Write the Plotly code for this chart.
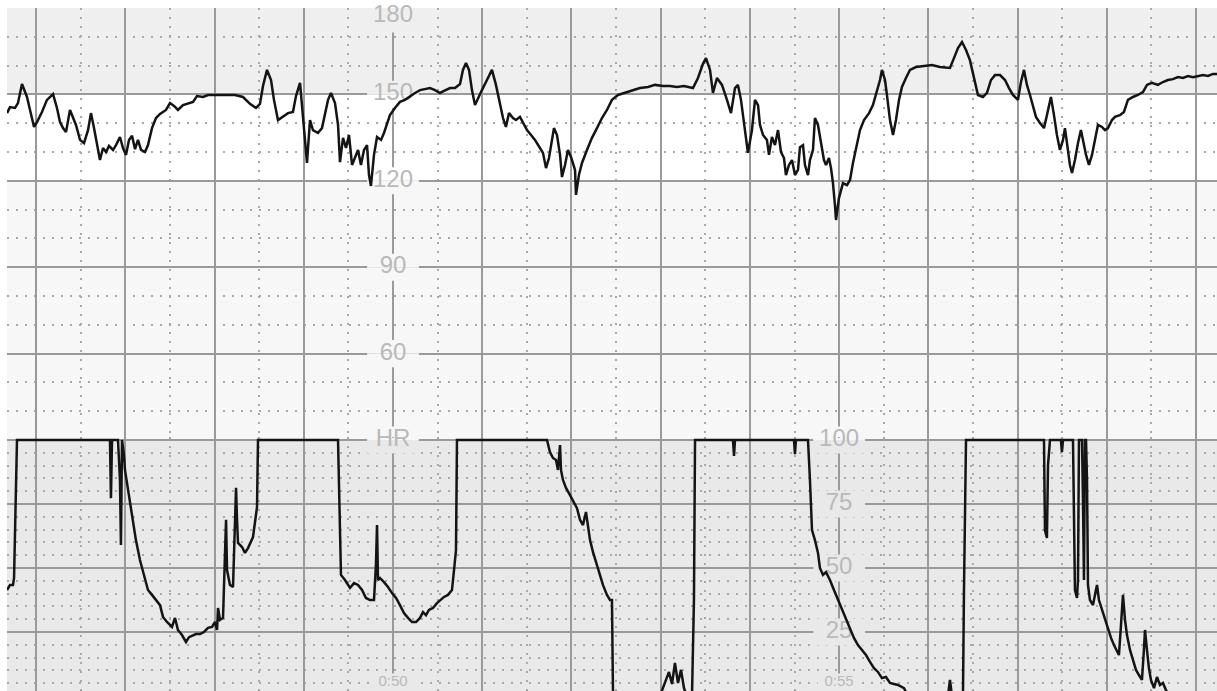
import plotly.graph_objects as go

# ---------------- data (time in minutes, FHR in bpm, UC in units) ----------------
FHR_TIME = [45.674, 45.708, 45.764, 45.797, 45.842, 45.898, 45.932, 45.977, 46.010, 46.066, 46.122, 46.190,
            46.234, 46.268, 46.302, 46.335, 46.380, 46.414, 46.447, 46.492, 46.537, 46.582, 46.615, 46.649,
            46.683, 46.716, 46.750, 46.784, 46.817, 46.862, 46.896, 46.940, 46.974, 47.008, 47.041, 47.075,
            47.109, 47.142, 47.176, 47.221, 47.254, 47.299, 47.344, 47.389, 47.456, 47.501, 47.546, 47.590,
            47.647, 47.714, 47.759, 47.803, 47.871, 47.927, 48.005, 48.117, 48.229, 48.319, 48.397, 48.465,
            48.509, 48.543, 48.588, 48.633, 48.666, 48.711, 48.767, 48.823, 48.879, 48.913, 48.958, 49.014,
            49.036, 49.070, 49.103, 49.159, 49.204, 49.272, 49.305, 49.350, 49.384, 49.406, 49.440, 49.473,
            49.507, 49.541, 49.574, 49.608, 49.641, 49.675, 49.709, 49.731, 49.753, 49.787, 49.821, 49.866,
            49.899, 49.933, 49.966, 50.022, 50.078, 50.134, 50.191, 50.247, 50.303, 50.359, 50.415, 50.471,
            50.527, 50.572, 50.639, 50.695, 50.751, 50.784, 50.818, 50.852, 50.885, 50.919, 50.953, 50.997,
            51.053, 51.109, 51.154, 51.199, 51.233, 51.266, 51.300, 51.345, 51.378, 51.423, 51.457, 51.502,
            51.547, 51.591, 51.647, 51.681, 51.715, 51.748, 51.782, 51.804, 51.838, 51.872, 51.894, 51.928,
            51.961, 51.995, 52.040, 52.051, 52.084, 52.118, 52.174, 52.230, 52.286, 52.342, 52.398, 52.454,
            52.522, 52.600, 52.690, 52.768, 52.858, 52.936, 53.026, 53.104, 53.183, 53.261, 53.362, 53.418,
            53.474, 53.508, 53.553, 53.586, 53.631, 53.687, 53.743, 53.788, 53.833, 53.866, 53.900, 53.934,
            53.978, 54.023, 54.057, 54.091, 54.113, 54.147, 54.191, 54.214, 54.247, 54.281, 54.315, 54.348,
            54.382, 54.404, 54.438, 54.472, 54.505, 54.539, 54.561, 54.595, 54.617, 54.651, 54.673, 54.707,
            54.729, 54.763, 54.797, 54.830, 54.853, 54.886, 54.909, 54.931, 54.953, 54.965, 54.998, 55.021,
            55.043, 55.088, 55.122, 55.155, 55.200, 55.234, 55.279, 55.335, 55.379, 55.424, 55.458, 55.480,
            55.514, 55.536, 55.570, 55.604, 55.637, 55.671, 55.704, 55.749, 55.794, 55.861, 55.962, 56.041,
            56.130, 56.242, 56.287, 56.332, 56.377, 56.422, 56.466, 56.511, 56.556, 56.612, 56.657, 56.702,
            56.747, 56.803, 56.859, 56.904, 56.948, 57.004, 57.038, 57.072, 57.105, 57.139, 57.172, 57.206,
            57.251, 57.296, 57.329, 57.374, 57.408, 57.441, 57.475, 57.509, 57.531, 57.553, 57.587, 57.610,
            57.643, 57.677, 57.710, 57.733, 57.767, 57.800, 57.834, 57.867, 57.901, 57.946, 57.979, 58.013,
            58.058, 58.091, 58.147, 58.192, 58.237, 58.293, 58.349, 58.405, 58.450, 58.506, 58.573, 58.629,
            58.685, 58.741, 58.797, 58.853, 58.910, 58.966, 59.022, 59.078, 59.134, 59.190, 59.235]

FHR_BPM = [143.5, 145.6, 145.3, 147.0, 153.6, 149.1, 144.6, 138.7, 140.4, 143.9, 148.1, 150.1,
           145.3, 140.4, 138.3, 136.9, 144.6, 141.8, 139.4, 134.2, 133.1, 137.6, 143.5, 138.3,
           132.4, 127.2, 131.4, 130.0, 132.1, 130.7, 132.4, 135.2, 131.4, 129.0, 134.2, 135.6,
           131.0, 134.2, 130.7, 130.0, 132.4, 138.3, 141.8, 143.2, 144.6, 147.0, 146.0, 144.6,
           146.3, 147.0, 147.4, 149.4, 149.1, 149.8, 149.8, 149.8, 149.8, 149.1, 146.7, 145.3,
           146.7, 152.9, 158.5, 155.0, 148.1, 141.1, 142.2, 143.5, 143.9, 149.4, 154.0, 134.2,
           126.2, 141.1, 137.6, 136.6, 138.3, 148.1, 150.5, 147.0, 139.4, 126.5, 134.9, 131.4,
           135.9, 125.5, 127.9, 130.7, 125.5, 130.7, 132.4, 122.0, 118.2, 129.0, 135.2, 134.2,
           136.6, 139.4, 142.8, 145.3, 147.4, 148.1, 149.4, 150.5, 151.5, 151.9, 152.2, 151.5,
           150.5, 151.2, 152.2, 152.2, 153.6, 158.5, 160.9, 158.5, 151.5, 146.3, 148.8, 151.5,
           155.0, 158.5, 153.3, 146.3, 141.8, 138.7, 143.5, 141.8, 141.1, 142.2, 140.1, 137.6,
           135.9, 134.2, 131.4, 129.7, 124.4, 127.9, 134.2, 138.3, 135.9, 129.0, 121.3, 125.5,
           130.7, 128.3, 123.8, 115.1, 122.0, 126.2, 130.7, 134.9, 138.3, 141.8, 144.6, 148.1,
           149.8, 150.5, 151.5, 152.2, 152.6, 153.3, 152.9, 152.9, 152.6, 152.9, 152.2, 155.7,
           160.6, 162.6, 158.5, 150.5, 155.7, 153.3, 148.1, 143.5, 152.2, 153.3, 148.1, 140.4,
           129.7, 137.6, 148.1, 146.3, 139.4, 135.9, 134.2, 129.0, 135.2, 132.4, 137.6, 130.0,
           127.9, 122.0, 125.5, 127.2, 122.0, 123.8, 131.7, 132.4, 125.5, 122.0, 127.2, 130.7,
           141.8, 139.4, 132.4, 127.2, 125.5, 127.9, 124.4, 119.2, 111.6, 106.4, 114.0, 116.8,
           119.2, 118.5, 120.3, 126.2, 132.4, 137.6, 141.1, 143.5, 146.3, 150.8, 155.0, 158.5,
           155.0, 149.8, 141.1, 135.9, 141.1, 148.1, 152.6, 155.7, 158.5, 159.5, 159.9, 160.2,
           159.5, 159.2, 162.6, 166.1, 168.2, 165.4, 161.9, 155.7, 149.8, 149.1, 150.5, 155.0,
           156.7, 156.7, 155.0, 152.2, 149.8, 148.1, 154.3, 158.5, 153.3, 149.8, 146.3, 142.2,
           140.1, 138.3, 142.8, 149.1, 142.8, 135.9, 130.7, 134.2, 138.3, 132.4, 125.5, 122.7,
           127.2, 133.1, 137.6, 134.2, 129.0, 125.5, 129.0, 134.2, 139.4, 138.7, 137.6, 138.3,
           141.1, 142.2, 142.8, 143.9, 148.1, 149.1, 149.8, 150.8, 153.3, 154.0, 153.3, 154.3,
           155.0, 155.3, 156.0, 155.7, 156.4, 156.0, 156.4, 156.7, 156.4, 157.1, 157.1]

UC_TIME = [45.674, 45.708, 45.741, 45.753, 45.764, 45.775, 45.786, 46.828, 46.839, 46.851, 46.918, 46.940,
           46.951, 46.963, 46.985, 46.996, 47.030, 47.075, 47.119, 47.164, 47.209, 47.254, 47.299, 47.344,
           47.389, 47.422, 47.467, 47.523, 47.557, 47.568, 47.590, 47.635, 47.680, 47.714, 47.747, 47.792,
           47.837, 47.882, 47.927, 47.972, 48.005, 48.028, 48.039, 48.061, 48.095, 48.129, 48.140, 48.173,
           48.207, 48.241, 48.252, 48.263, 48.308, 48.341, 48.375, 48.431, 48.476, 48.487, 49.384, 49.406,
           49.417, 49.462, 49.518, 49.563, 49.608, 49.653, 49.697, 49.742, 49.787, 49.809, 49.821, 49.832,
           49.854, 49.899, 49.944, 49.989, 50.034, 50.078, 50.123, 50.168, 50.213, 50.258, 50.303, 50.336,
           50.370, 50.403, 50.448, 50.493, 50.527, 50.572, 50.616, 50.661, 50.684, 50.706, 50.717, 51.726,
           51.759, 51.793, 51.827, 51.849, 51.872, 51.883, 51.905, 51.939, 51.984, 52.028, 52.062, 52.096,
           52.129, 52.163, 52.185, 52.208, 52.241, 52.286, 52.320, 52.353, 52.398, 52.432, 52.454, 52.466,
           52.992, 53.026, 53.060, 53.093, 53.127, 53.160, 53.194, 53.228, 53.261, 53.295, 53.351, 53.362,
           53.373, 53.385, 53.810, 53.822, 53.833, 54.494, 54.505, 54.516, 54.651, 54.673, 54.696, 54.729,
           54.763, 54.785, 54.819, 54.853, 54.897, 54.942, 54.987, 55.032, 55.077, 55.122, 55.166, 55.211,
           55.256, 55.301, 55.346, 55.391, 55.435, 55.480, 55.525, 55.570, 55.615, 55.660, 55.727, 55.772,
           56.220, 56.242, 56.265, 56.388, 56.399, 56.422, 57.296, 57.307, 57.329, 57.341, 57.363, 57.486,
           57.497, 57.509, 57.621, 57.632, 57.643, 57.666, 57.677, 57.688, 57.722, 57.733, 57.744, 57.755,
           57.767, 57.778, 57.789, 57.811, 57.845, 57.878, 57.890, 57.912, 57.946, 57.979, 58.013, 58.047,
           58.080, 58.114, 58.136, 58.159, 58.181, 58.204, 58.226, 58.260, 58.293, 58.327, 58.360, 58.394,
           58.416, 58.428, 58.450, 58.472, 58.495, 58.529, 58.562, 58.596, 58.629, 58.663, 58.708, 59.235]

UC_VALUE = [41.4, 43.4, 43.4, 46.1, 64.1, 88.3, 100, 100, 77.3, 100, 100, 84.4,
            59.0, 100, 94.1, 88.3, 80.5, 70.7, 60.9, 53.1, 47.3, 41.4, 39.5, 37.5,
            35.5, 30.9, 28.9, 27.0, 30.5, 28.9, 25.8, 23.8, 21.1, 23.0, 23.4, 24.2,
            24.2, 25.0, 26.6, 27.0, 28.9, 25.8, 34.4, 29.7, 30.5, 68.8, 49.2, 43.4,
            42.6, 81.3, 68.8, 59.8, 58.2, 55.9, 57.8, 62.1, 73.8, 100, 100, 60.9,
            47.3, 45.3, 42.2, 44.1, 43.4, 41.4, 38.3, 37.5, 37.5, 51.2, 66.8, 45.3,
            46.1, 44.5, 42.6, 40.2, 38.3, 35.5, 32.4, 30.5, 28.9, 28.9, 30.5, 32.8,
            31.6, 33.6, 34.4, 36.3, 37.5, 38.7, 39.5, 41.4, 49.2, 57.0, 100, 100,
            95.3, 93.0, 92.2, 88.3, 98.0, 88.3, 84.4, 81.3, 78.5, 75.8, 73.4, 68.8,
            66.8, 71.9, 66.8, 60.9, 56.3, 51.2, 47.3, 43.4, 39.5, 37.5, 37.5, 0,
            0, 3.1, 6.3, 9.4, 4.7, 12.9, 5.1, 10.2, 3.1, 0, 0, 18.8,
            37.5, 100, 100, 93.8, 100, 100, 94.5, 100, 100, 84.4, 64.8, 60.9,
            55.9, 50.0, 47.3, 48.4, 45.3, 41.4, 37.5, 33.6, 29.7, 25.8, 22.7, 19.9,
            18.0, 16.0, 13.3, 10.9, 9.4, 7.0, 7.4, 5.1, 4.7, 4.3, 3.1, 0,
            0, 6.3, 0, 0, 40.6, 100, 100, 64.8, 61.7, 90.2, 100, 100,
            95.3, 100, 100, 55.1, 41.4, 38.3, 45.3, 100, 100, 76.6, 45.3, 100,
            100, 84.4, 43.4, 37.5, 35.5, 41.4, 43.4, 37.5, 33.6, 29.7, 26.6, 22.7,
            19.9, 17.2, 16.0, 27.7, 39.5, 29.7, 23.8, 18.0, 14.1, 10.2, 8.2, 6.3,
            18.0, 25.8, 18.0, 10.9, 6.3, 3.1, 7.4, 4.3, 5.1, 2.3, 0, 0]

FHR_TICK_VALUES = [150, 120, 90, 60]
FHR_TICK_LABELS = ["150", "120", "90", "60"]
FHR_TOP_VALUE = 180
FHR_TOP_LABEL = "180"
FHR_UNIT_LABEL = "HR"
UC_TICK_VALUES = [75, 50, 25]
UC_TICK_LABELS = ["75", "50", "25"]
UC_TOP_VALUE = 100
UC_TOP_LABEL = "100"
TIME_LABEL_MINUTES = [50, 55]
TIME_LABELS = ["0:50", "0:55"]

# ---------------- layout constants ----------------
W, H = 1217, 691
X_RANGE = [45.674, 59.235]
FHR_RANGE = [30, 180]
UC_RANGE = [1.95, 101]
FHR_DOMAIN = [0.3675, 1.0]
UC_DOMAIN = [0.0, 0.3712]
FHR_LABEL_X = 50
UC_LABEL_X = 55

MAJOR_GRID = "#9a9a9a"
DOT_GRID = "#a9a9a9"
TEXT_GREY = "#b9b9b9"
UPPER_BG_TOP = "#efefef"
UPPER_BG_MID = "#ffffff"
UPPER_BG_LOW = "#f7f7f7"
LOWER_BG = "#e9e9e9"
FONT = "Liberation Sans, Arial, sans-serif"
LINE_COL = "#141414"
LINE_W = 2.5


def upper_bg(v):
    if v > 150:
        return UPPER_BG_TOP
    if v > 120:
        return UPPER_BG_MID
    return UPPER_BG_LOW


fig = go.Figure()

label_font = dict(size=24, color=TEXT_GREY, family=FONT)

# labels in the upper panel (drawn under the traces)
fig.add_trace(go.Scatter(
    x=[FHR_LABEL_X] * (len(FHR_TICK_VALUES) + 1),
    y=FHR_TICK_VALUES + [FHR_TOP_VALUE - 2.6],
    text=FHR_TICK_LABELS + [FHR_TOP_LABEL],
    mode="text", textposition="middle center", textfont=label_font,
    cliponaxis=False, hoverinfo="skip", xaxis="x", yaxis="y"))

fig.add_trace(go.Scatter(x=FHR_TIME, y=FHR_BPM, mode="lines",
                         line=dict(color=LINE_COL, width=LINE_W),
                         xaxis="x", yaxis="y", hoverinfo="skip"))

# labels in the lower panel, incl. the boundary labels "HR" and "100"
fig.add_trace(go.Scatter(
    x=[FHR_LABEL_X, UC_LABEL_X] + [UC_LABEL_X] * len(UC_TICK_VALUES),
    y=[UC_TOP_VALUE, UC_TOP_VALUE] + UC_TICK_VALUES,
    text=[FHR_UNIT_LABEL, UC_TOP_LABEL] + UC_TICK_LABELS,
    mode="text", textposition="middle center", textfont=label_font,
    cliponaxis=False, hoverinfo="skip", xaxis="x", yaxis="y2"))
fig.add_trace(go.Scatter(
    x=TIME_LABEL_MINUTES, y=[5.5] * len(TIME_LABEL_MINUTES),
    text=TIME_LABELS, mode="text", textposition="middle center",
    textfont=dict(size=15, color=TEXT_GREY, family=FONT),
    cliponaxis=False, hoverinfo="skip", xaxis="x", yaxis="y2"))

fig.add_trace(go.Scatter(x=UC_TIME, y=UC_VALUE, mode="lines",
                         line=dict(color=LINE_COL, width=LINE_W),
                         xaxis="x", yaxis="y2", hoverinfo="skip"))

shapes = []
# panel backgrounds (below grid)
for y0, y1 in [(150, 180), (120, 150), (30, 120)]:
    shapes.append(dict(type="rect", xref="paper", yref="y", x0=0, x1=1, y0=y0, y1=y1,
                       fillcolor=upper_bg((y0 + y1) / 2), line=dict(width=0), layer="below"))
shapes.append(dict(type="rect", xref="paper", yref="y2", x0=0, x1=1, y0=UC_RANGE[0], y1=100,
                   fillcolor=LOWER_BG, line=dict(width=0), layer="below"))


def mask(xc, yref, y0, y1, col, hw=0.29):
    shapes.append(dict(type="rect", xref="x", yref=yref, x0=xc - hw, x1=xc + hw,
                       y0=y0, y1=y1, fillcolor=col, line=dict(width=0), layer="between"))


# masks behind the labels (above grid, below traces), split per background band
for v in FHR_TICK_VALUES:
    mask(FHR_LABEL_X, "y", v, v + 4.7, upper_bg(v + 1))
    mask(FHR_LABEL_X, "y", v - 4.7, v, upper_bg(v - 1))
mask(FHR_LABEL_X, "y", FHR_TOP_VALUE - 8.5, FHR_TOP_VALUE, UPPER_BG_TOP)
for xl in [FHR_LABEL_X, UC_LABEL_X]:
    mask(xl, "y", 30, 34.7, UPPER_BG_LOW)
    mask(xl, "y2", 100, 101, UPPER_BG_LOW)
    mask(xl, "y2", 94.7, 100, LOWER_BG)
for v in UC_TICK_VALUES:
    mask(UC_LABEL_X, "y2", v - 5.3, v + 5.3, LOWER_BG)
for xl in TIME_LABEL_MINUTES:
    mask(xl, "y2", UC_RANGE[0], 8.8, LOWER_BG, hw=0.24)

grid_common = dict(showticklabels=False, ticks="", zeroline=False, showline=False,
                   showgrid=True, gridcolor=MAJOR_GRID, gridwidth=1.8, fixedrange=True)
minor_common = dict(showgrid=True, gridcolor=DOT_GRID, gridwidth=2, griddash="2px,7px", ticks="")

fig.update_layout(
    width=W, height=H,
    margin=dict(l=7, r=0, t=8, b=0),
    paper_bgcolor="white", plot_bgcolor="rgba(0,0,0,0)",
    showlegend=False,
    shapes=shapes,
    xaxis=dict(range=X_RANGE, tick0=0, dtick=1, anchor="y2",
               minor=dict(tick0=0, dtick=0.5, **minor_common), **grid_common),
    yaxis=dict(domain=FHR_DOMAIN, range=FHR_RANGE, tick0=0, dtick=30, anchor="x",
               minor=dict(tick0=0, dtick=10, **minor_common), **grid_common),
    yaxis2=dict(domain=UC_DOMAIN, range=UC_RANGE, tick0=0, dtick=25, anchor="x",
                minor=dict(tick0=0, dtick=5, **minor_common), **grid_common),
)

fig.write_html("out.html")
